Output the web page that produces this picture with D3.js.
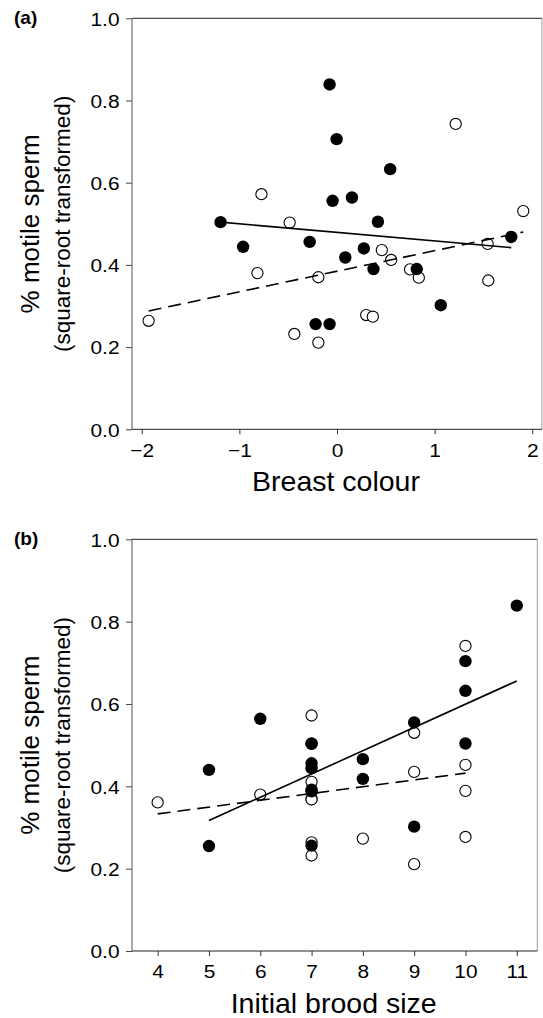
<!DOCTYPE html>
<html>
<head>
<meta charset="utf-8">
<script src="https://cdn.jsdelivr.net/npm/d3@7"></script>
<style>
  html, body { margin: 0; padding: 0; background: #fff; }
  svg { display: block; }
  text { font-family: "Liberation Sans", Arial, sans-serif; fill: #000; }
</style>
</head>
<body>
<svg id="chart" width="543" height="1018"></svg>
<script>
// ---------- Panel (a): Breast colour ----------
const aFilledX = [-1.193, -0.962, -0.28, -0.076, -0.004, -0.045, 0.153, 0.419, 0.545, 0.275, 0.085, 0.374, 0.817, 1.063, 1.785, -0.219, -0.076];
const aFilledY = [0.504, 0.444, 0.456, 0.839, 0.706, 0.556, 0.564, 0.505, 0.633, 0.440, 0.418, 0.390, 0.390, 0.302, 0.468, 0.256, 0.256];
const aOpenX = [-1.93, -0.774, -0.815, -0.485, -0.437, -0.191, -0.191, 0.299, 0.367, 0.459, 0.555, 0.749, 0.838, 1.216, 1.543, 1.55, 1.908];
const aOpenY = [0.264, 0.572, 0.380, 0.503, 0.232, 0.370, 0.211, 0.278, 0.274, 0.436, 0.412, 0.389, 0.369, 0.743, 0.451, 0.362, 0.531];
const aSolidLineX = [-1.193, 1.785];
const aSolidLineY = [0.504, 0.442];
const aDashLineX = [-1.93, 1.908];
const aDashLineY = [0.288, 0.480];
const aXTicks = [-2, -1, 0, 1, 2];

// ---------- Panel (b): Initial brood size ----------
const bFilledX = [5, 5, 6, 7, 7, 7, 7, 7, 7, 8, 8, 9, 9, 10, 10, 10, 11];
const bFilledY = [0.440, 0.255, 0.564, 0.504, 0.456, 0.444, 0.392, 0.388, 0.256, 0.466, 0.418, 0.555, 0.302, 0.704, 0.632, 0.504, 0.839];
const bOpenX = [4, 6, 7, 7, 7, 7, 7, 7, 7, 8, 9, 9, 9, 10, 10, 10, 10];
const bOpenY = [0.361, 0.380, 0.572, 0.503, 0.411, 0.370, 0.368, 0.264, 0.232, 0.273, 0.530, 0.435, 0.211, 0.741, 0.452, 0.389, 0.277];
const bSolidLineX = [5, 11];
const bSolidLineY = [0.317, 0.656];
const bDashLineX = [4, 10];
const bDashLineY = [0.333, 0.432];
const bXTicks = [4, 5, 6, 7, 8, 9, 10, 11];

const yTicks = [0, 0.2, 0.4, 0.6, 0.8, 1.0];
const yTitle1 = "% motile sperm";
const yTitle2 = "(square-root transformed)";

const svg = d3.select("#chart");
const TICK_FONT = 19;
const TICK_STRETCH = 1.1;

function panel(cfg) {
  const x = d3.scaleLinear().domain(cfg.xDomain).range([cfg.left, cfg.right]);
  const y = d3.scaleLinear().domain([0, 1]).range([cfg.bottom, cfg.top]);
  const g = svg.append("g");

  // frame (top & right)
  g.append("line").attr("x1", cfg.left).attr("x2", cfg.right).attr("y1", cfg.top).attr("y2", cfg.top)
    .attr("stroke", "#222").attr("stroke-width", 1);
  g.append("line").attr("x1", cfg.right).attr("x2", cfg.right).attr("y1", cfg.top).attr("y2", cfg.bottom)
    .attr("stroke", "#999").attr("stroke-width", 1);

  // axes
  const xAxis = d3.axisBottom(x).tickValues(cfg.xTicks).tickFormat(d3.format("d"))
    .tickSizeInner(5).tickSizeOuter(0).tickPadding(9);
  const yAxis = d3.axisLeft(y).tickValues(yTicks).tickFormat(d3.format(".1f"))
    .tickSizeInner(6).tickSizeOuter(0).tickPadding(0);

  const gx = g.append("g").attr("transform", `translate(0,${cfg.bottom})`).call(xAxis);
  gx.select(".domain").remove();
  gx.selectAll(".tick line").attr("stroke", "#333");
  gx.selectAll(".tick text").attr("font-size", TICK_FONT)
    .attr("font-family", "Liberation Sans, Arial, sans-serif").attr("fill", "#000")
    .attr("transform", `scale(${TICK_STRETCH},1)`);

  const gy = g.append("g").attr("transform", `translate(${cfg.left},0)`).call(yAxis);
  gy.select(".domain").remove();
  gy.selectAll(".tick line").attr("stroke", "#444");
  gy.selectAll(".tick text").attr("font-size", TICK_FONT)
    .attr("font-family", "Liberation Sans, Arial, sans-serif").attr("fill", "#000")
    .attr("x", -12.5 / TICK_STRETCH).attr("dy", "0.36em")
    .attr("transform", `scale(${TICK_STRETCH},1)`);

  g.append("line").attr("x1", cfg.left).attr("x2", cfg.right).attr("y1", cfg.bottom).attr("y2", cfg.bottom)
    .attr("stroke", "#222").attr("stroke-width", 1);
  g.append("line").attr("x1", cfg.left).attr("x2", cfg.left).attr("y1", cfg.top).attr("y2", cfg.bottom + 0.5)
    .attr("stroke", "#555").attr("stroke-width", 1);

  // points
  const filled = cfg.fx.map((d, i) => [d, cfg.fy[i]]);
  const open = cfg.ox.map((d, i) => [d, cfg.oy[i]]);
  g.append("g").selectAll("circle").data(open).join("circle")
    .attr("cx", d => x(d[0])).attr("cy", d => y(d[1])).attr("r", 5.6)
    .attr("fill", "#fff").attr("stroke", "#000").attr("stroke-width", 1.1);
  g.append("g").selectAll("circle").data(filled).join("circle")
    .attr("cx", d => x(d[0])).attr("cy", d => y(d[1])).attr("r", 6.2)
    .attr("fill", "#000");

  // regression lines
  const line = d3.line().x(d => x(d[0])).y(d => y(d[1]));
  g.append("path").datum(cfg.sx.map((d, i) => [d, cfg.sy[i]]))
    .attr("d", line).attr("fill", "none").attr("stroke", "#000").attr("stroke-width", 1.6);
  g.append("path").datum(cfg.dx.map((d, i) => [d, cfg.dy[i]]))
    .attr("d", line).attr("fill", "none").attr("stroke", "#000").attr("stroke-width", 1.6)
    .attr("stroke-dasharray", "13,7");

  // titles
  const midY = (cfg.top + cfg.bottom) / 2;
  g.append("text").attr("transform", `translate(38.5,${midY}) rotate(-90)`)
    .attr("text-anchor", "middle").attr("font-size", 26).text(yTitle1);
  g.append("text").attr("transform", `translate(69.5,${midY}) rotate(-90)`)
    .attr("text-anchor", "middle").attr("font-size", 22.5).text(yTitle2);
  g.append("text").attr("x", (cfg.left + cfg.right) / 2 - 1).attr("y", cfg.bottom + 62)
    .attr("text-anchor", "middle").attr("font-size", 28.5).text(cfg.xTitle);
  g.append("text").attr("x", 14).attr("y", cfg.top + 6)
    .attr("font-size", 19).attr("font-weight", "bold").text(cfg.label);
}

panel({
  xDomain: [-2.1, 2.1], left: 132, right: 542, top: 18.3, bottom: 429.3,
  xTicks: aXTicks, fx: aFilledX, fy: aFilledY, ox: aOpenX, oy: aOpenY,
  sx: aSolidLineX, sy: aSolidLineY, dx: aDashLineX, dy: aDashLineY,
  xTitle: "Breast colour", label: "(a)"
});
panel({
  xDomain: [3.5, 11.4], left: 132, right: 537.3, top: 539.3, bottom: 951,
  xTicks: bXTicks, fx: bFilledX, fy: bFilledY, ox: bOpenX, oy: bOpenY,
  sx: bSolidLineX, sy: bSolidLineY, dx: bDashLineX, dy: bDashLineY,
  xTitle: "Initial brood size", label: "(b)"
});
</script>
</body>
</html>
